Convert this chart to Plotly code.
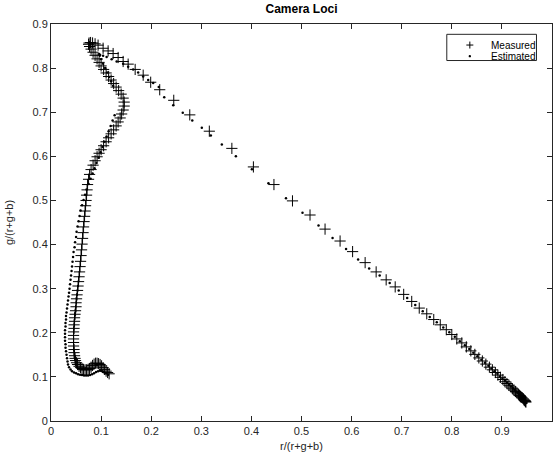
import plotly.graph_objects as go

# Chromaticity loci of the camera, r/(r+g+b) vs g/(r+g+b), from the blue end,
# over the green apex, down to the red end.
measured_r = [
    0.116, 0.113, 0.110, 0.107, 0.104, 0.101, 0.098, 0.095, 0.092, 0.089,
    0.086, 0.083, 0.080, 0.077, 0.074, 0.071, 0.068, 0.065, 0.062, 0.059,
    0.056, 0.053, 0.051, 0.049, 0.048, 0.047, 0.046, 0.046, 0.045, 0.045,
    0.045, 0.045, 0.045, 0.046, 0.046, 0.047, 0.047, 0.048, 0.049, 0.050,
    0.050, 0.051, 0.052, 0.053, 0.054, 0.055, 0.056, 0.057, 0.058, 0.059,
    0.060, 0.061, 0.062, 0.063, 0.064, 0.065, 0.066, 0.067, 0.068, 0.069,
    0.070, 0.071, 0.072, 0.073, 0.075, 0.077, 0.080, 0.084, 0.088, 0.092,
    0.096, 0.100, 0.105, 0.110, 0.115, 0.120, 0.125, 0.130, 0.134, 0.138,
    0.141, 0.144, 0.146, 0.146, 0.144, 0.140, 0.135, 0.130, 0.125, 0.120,
    0.115, 0.110, 0.105, 0.100, 0.096, 0.092, 0.088, 0.084, 0.080, 0.077,
    0.075, 0.076, 0.079, 0.083, 0.088,
    0.094, 0.104, 0.114, 0.124, 0.134, 0.144, 0.154, 0.168, 0.184, 0.199,
    0.217, 0.245, 0.277, 0.316, 0.361, 0.404, 0.445, 0.482, 0.517, 0.547,
    0.577, 0.602, 0.627, 0.649, 0.669, 0.687, 0.704, 0.720, 0.735, 0.750,
    0.764, 0.777, 0.789, 0.800, 0.810, 0.820, 0.829, 0.838, 0.846, 0.854,
    0.861, 0.868, 0.875, 0.881, 0.887, 0.892, 0.897, 0.902, 0.906, 0.910,
    0.914, 0.918, 0.921, 0.924, 0.927, 0.930, 0.933, 0.935, 0.937, 0.939,
    0.941, 0.943, 0.944, 0.945, 0.946, 0.947, 0.947, 0.948,
]
measured_g = [
    0.107, 0.110, 0.113, 0.117, 0.121, 0.125, 0.128, 0.130, 0.131, 0.131,
    0.129, 0.126, 0.122, 0.119, 0.117, 0.116, 0.116, 0.117, 0.119, 0.121,
    0.124, 0.128, 0.132, 0.137, 0.142, 0.148, 0.155, 0.162, 0.170, 0.178,
    0.186, 0.194, 0.202, 0.210, 0.218, 0.226, 0.234, 0.242, 0.250, 0.259,
    0.268, 0.277, 0.286, 0.296, 0.306, 0.316, 0.327, 0.338, 0.350, 0.362,
    0.375, 0.388, 0.401, 0.414, 0.427, 0.440, 0.452, 0.464, 0.476, 0.488,
    0.500, 0.512, 0.524, 0.536, 0.548, 0.559, 0.570, 0.580, 0.590, 0.599,
    0.607, 0.615, 0.624, 0.633, 0.642, 0.651, 0.660, 0.669, 0.678, 0.687,
    0.696, 0.705, 0.714, 0.723, 0.732, 0.741, 0.749, 0.757, 0.765, 0.773,
    0.781, 0.789, 0.797, 0.805, 0.813, 0.821, 0.829, 0.836, 0.843, 0.849,
    0.854, 0.857, 0.858, 0.857, 0.855,
    0.852, 0.845, 0.839, 0.833, 0.824, 0.815, 0.809, 0.797, 0.784, 0.768,
    0.751, 0.727, 0.694, 0.657, 0.618, 0.576, 0.536, 0.499, 0.467, 0.435,
    0.408, 0.384, 0.359, 0.338, 0.320, 0.304, 0.287, 0.271, 0.256, 0.243,
    0.230, 0.218, 0.207, 0.196, 0.186, 0.177, 0.168, 0.159, 0.151, 0.143,
    0.136, 0.129, 0.122, 0.116, 0.110, 0.104, 0.099, 0.094, 0.089, 0.085,
    0.081, 0.077, 0.073, 0.070, 0.067, 0.064, 0.061, 0.058, 0.056, 0.054,
    0.052, 0.050, 0.048, 0.047, 0.046, 0.045, 0.044, 0.043,
]

estimated_r = [
    0.114, 0.110, 0.106, 0.102, 0.098, 0.094, 0.090, 0.086, 0.082, 0.078,
    0.074, 0.070, 0.066, 0.062, 0.058, 0.054, 0.050, 0.046, 0.042, 0.039,
    0.036, 0.034, 0.033, 0.032, 0.031, 0.030, 0.029, 0.029, 0.028, 0.028,
    0.028, 0.028, 0.029, 0.029, 0.030, 0.030, 0.031, 0.032, 0.033, 0.034,
    0.035, 0.036, 0.037, 0.038, 0.039, 0.040, 0.041, 0.042, 0.043, 0.044,
    0.045, 0.047, 0.048, 0.050, 0.051, 0.053, 0.055, 0.057, 0.059, 0.062,
    0.065, 0.068, 0.071, 0.075, 0.079, 0.083, 0.087, 0.091, 0.095, 0.099,
    0.103, 0.107, 0.111, 0.115, 0.119, 0.123, 0.127,
    0.124, 0.120, 0.116, 0.112, 0.108, 0.104, 0.100, 0.097, 0.096, 0.098,
    0.104, 0.111, 0.121, 0.131, 0.144, 0.154, 0.164, 0.174, 0.184, 0.194,
    0.204, 0.215, 0.226, 0.244, 0.263, 0.282, 0.301, 0.319, 0.341, 0.369,
    0.401, 0.434, 0.469, 0.502, 0.534, 0.562, 0.589, 0.613, 0.635, 0.656,
    0.676, 0.694, 0.711, 0.727, 0.742, 0.756, 0.770, 0.783, 0.795, 0.806,
    0.816, 0.826, 0.835, 0.843, 0.851, 0.859, 0.866, 0.873, 0.879, 0.885,
    0.891, 0.896, 0.901, 0.906, 0.910, 0.914, 0.918, 0.922, 0.925, 0.928,
    0.931, 0.934, 0.936, 0.938, 0.940, 0.942, 0.943, 0.945, 0.946, 0.947,
    0.948, 0.949,
]
estimated_g = [
    0.105, 0.108, 0.111, 0.113, 0.114, 0.113, 0.111, 0.108, 0.106, 0.104,
    0.103, 0.103, 0.103, 0.104, 0.105, 0.106, 0.108, 0.110, 0.113, 0.117,
    0.122, 0.128, 0.135, 0.142, 0.150, 0.158, 0.166, 0.174, 0.182, 0.190,
    0.198, 0.206, 0.214, 0.222, 0.230, 0.238, 0.246, 0.255, 0.264, 0.273,
    0.282, 0.291, 0.300, 0.310, 0.320, 0.330, 0.340, 0.350, 0.361, 0.372,
    0.383, 0.394, 0.405, 0.417, 0.429, 0.441, 0.453, 0.465, 0.477, 0.489,
    0.501, 0.513, 0.525, 0.537, 0.549, 0.561, 0.573, 0.585, 0.597, 0.609,
    0.621, 0.633, 0.645, 0.657, 0.669, 0.681, 0.693,
    0.760, 0.770, 0.780, 0.790, 0.800, 0.810, 0.820, 0.828, 0.832, 0.830,
    0.828, 0.825, 0.820, 0.815, 0.810, 0.803, 0.797, 0.790, 0.781, 0.773,
    0.766, 0.757, 0.734, 0.716, 0.699, 0.681, 0.665, 0.647, 0.627, 0.600,
    0.571, 0.539, 0.505, 0.472, 0.443, 0.415, 0.390, 0.366, 0.346, 0.330,
    0.313, 0.296, 0.279, 0.263, 0.249, 0.236, 0.224, 0.212, 0.201, 0.191,
    0.181, 0.172, 0.163, 0.155, 0.147, 0.139, 0.132, 0.125, 0.119, 0.113,
    0.107, 0.101, 0.096, 0.091, 0.087, 0.082, 0.078, 0.074, 0.071, 0.067,
    0.064, 0.061, 0.058, 0.056, 0.053, 0.051, 0.049, 0.047, 0.045, 0.044,
    0.042, 0.041,
]

x_ticks = [0, 0.1, 0.2, 0.3, 0.4, 0.5, 0.6, 0.7, 0.8, 0.9, 1]
x_tick_text = ["0", "0.1", "0.2", "0.3", "0.4", "0.5", "0.6", "0.7", "0.8", "0.9", "1"]
y_ticks = [0, 0.1, 0.2, 0.3, 0.4, 0.5, 0.6, 0.7, 0.8, 0.9]
y_tick_text = ["0", "0.1", "0.2", "0.3", "0.4", "0.5", "0.6", "0.7", "0.8", "0.9"]
series_names = ["Measured", "Estimated"]

ink = "#262626"
font_family = "Liberation Sans, Arial, sans-serif"

fig = go.Figure()
fig.add_trace(go.Scatter(
    x=measured_r, y=measured_g, mode="markers", name=series_names[0],
    marker=dict(symbol="cross-thin-open", size=8, color="black",
                line=dict(color="black", width=1)),
))
fig.add_trace(go.Scatter(
    x=estimated_r, y=estimated_g, mode="markers", name=series_names[1],
    marker=dict(symbol="circle", size=2.5, color="black", line=dict(width=0)),
))

axis_common = dict(
    showline=True, linecolor=ink, linewidth=1, mirror="ticks",
    ticks="inside", ticklen=5, tickwidth=1, tickcolor=ink,
    showgrid=False, zeroline=False, automargin=False,
    tickfont=dict(family=font_family, size=11, color=ink),
)

# Compact boxed legend in the upper-right corner of the axes (paper units).
box_x0, box_x1, box_y0, box_y1 = 0.790, 0.969, 0.908, 0.974
key_x, text_x = 0.836, 0.874
row_y = [0.947, 0.919]
plus_dx, plus_dy = 0.007, 0.0088
dot_dx, dot_dy = 0.0024, 0.003

shapes = [
    dict(type="rect", xref="paper", yref="paper", x0=box_x0, x1=box_x1,
         y0=box_y0, y1=box_y1, line=dict(color=ink, width=1),
         fillcolor="white", layer="above"),
    dict(type="line", xref="paper", yref="paper", x0=key_x - plus_dx,
         x1=key_x + plus_dx, y0=row_y[0], y1=row_y[0],
         line=dict(color="black", width=1), layer="above"),
    dict(type="line", xref="paper", yref="paper", x0=key_x, x1=key_x,
         y0=row_y[0] - plus_dy, y1=row_y[0] + plus_dy,
         line=dict(color="black", width=1), layer="above"),
    dict(type="circle", xref="paper", yref="paper", x0=key_x - dot_dx,
         x1=key_x + dot_dx, y0=row_y[1] - dot_dy, y1=row_y[1] + dot_dy,
         line=dict(width=0), fillcolor="black", layer="above"),
]
annotations = [
    dict(xref="paper", yref="paper", x=text_x, y=yy, text=name,
         showarrow=False, xanchor="left", yanchor="middle",
         font=dict(size=10, color="black", family=font_family))
    for name, yy in zip(series_names, row_y)
]

fig.update_layout(
    width=555, height=461,
    margin=dict(l=51, r=3, t=24, b=40),
    paper_bgcolor="white", plot_bgcolor="white",
    font=dict(family=font_family, color=ink),
    title=dict(text="<b>Camera Loci</b>", x=0.5, xref="paper",
               y=1 - 9 / 461, yref="container", yanchor="middle",
               font=dict(size=12, color="black", family=font_family)),
    xaxis=dict(range=[0, 1], tickvals=x_ticks, ticktext=x_tick_text,
               title=dict(text="r/(r+g+b)", standoff=6,
                          font=dict(size=11, color=ink, family=font_family)),
               **axis_common),
    yaxis=dict(range=[0, 0.9], tickvals=y_ticks, ticktext=y_tick_text,
               title=dict(text="g/(r+g+b)", standoff=16,
                          font=dict(size=11, color=ink, family=font_family)),
               **axis_common),
    shapes=shapes,
    annotations=annotations,
    showlegend=False,
)

fig.write_html("out.html")
